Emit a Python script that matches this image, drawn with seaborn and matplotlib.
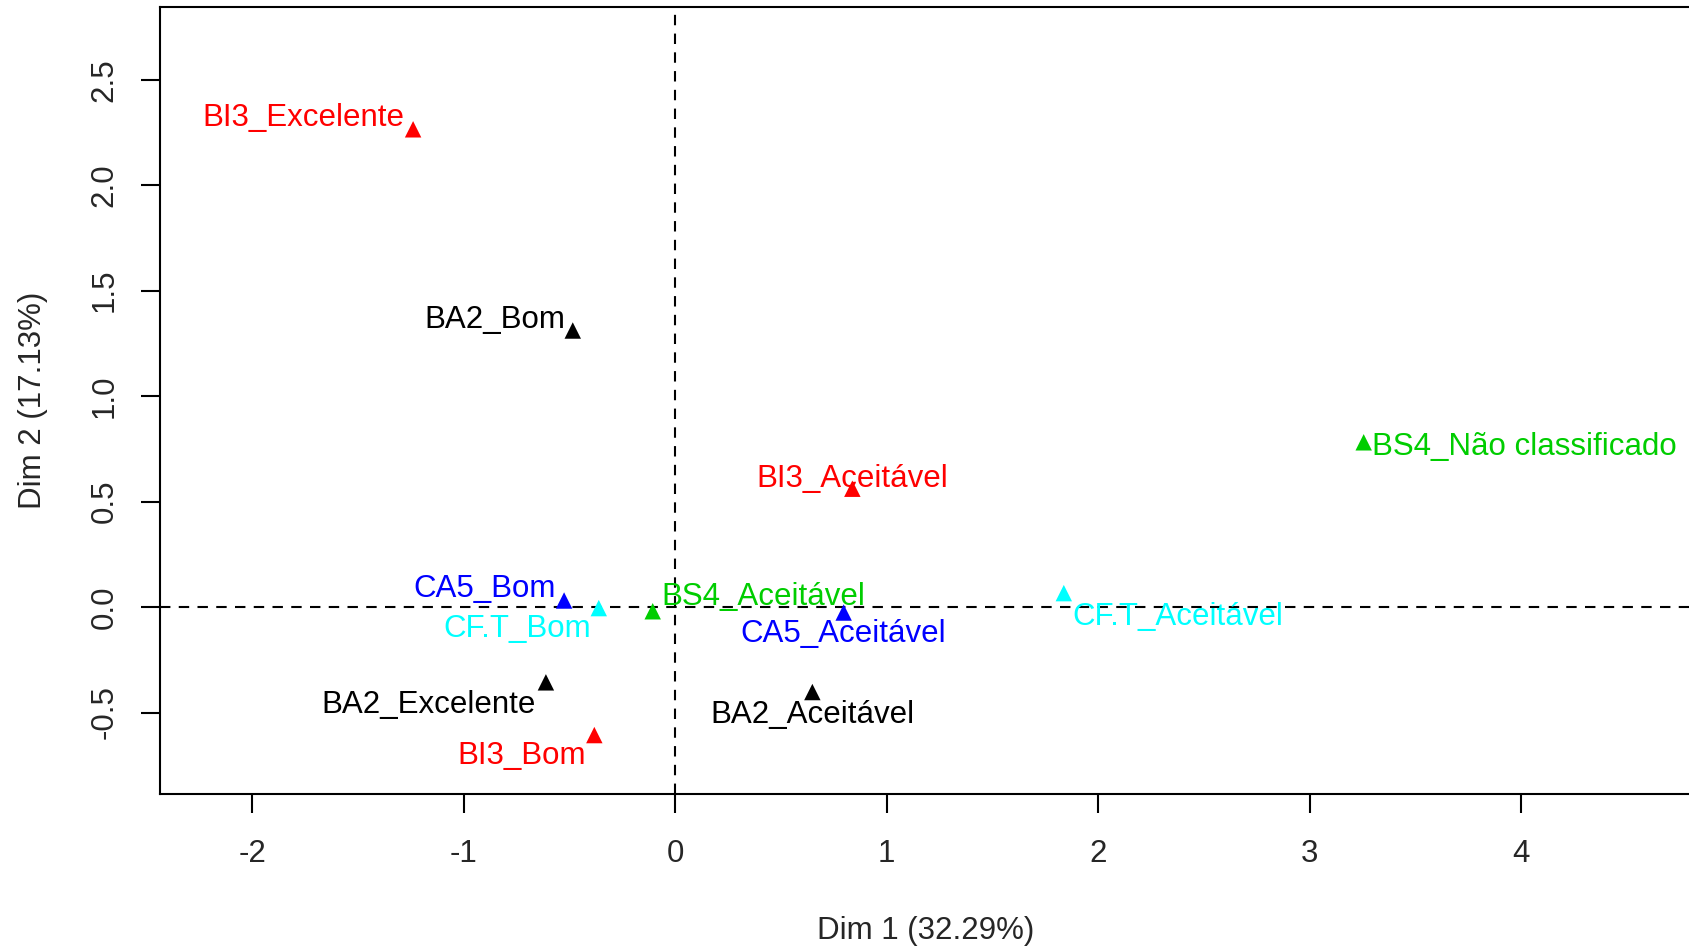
import pandas as pd
import seaborn as sns
import matplotlib
matplotlib.use('Agg')
import matplotlib.pyplot as plt

# Category coordinates on the first two dimensions
labels = ['BI3_Excelente', 'BA2_Bom', 'BI3_Aceitável', 'BS4_Não classificado',
          'CA5_Bom', 'CF.T_Bom', 'BS4_Aceitável', 'CA5_Aceitável',
          'CF.T_Aceitável', 'BA2_Excelente', 'BA2_Aceitável', 'BI3_Bom']
dim1 = [-1.24, -0.485, 0.837, 3.255, -0.526, -0.362, -0.107, 0.796,
        1.837, -0.612, 0.648, -0.383]
dim2 = [2.265, 1.311, 0.561, 0.781, 0.031, -0.005, -0.020, -0.026,
        0.066, -0.357, -0.403, -0.607]
groups = ['BI3', 'BA2', 'BI3', 'BS4', 'CA5', 'CF.T', 'BS4', 'CA5',
          'CF.T', 'BA2', 'BA2', 'BI3']

palette = {'BA2': 'black', 'BI3': '#FF0000', 'BS4': '#00CD00',
           'CA5': '#0000FF', 'CF.T': '#00FFFF'}

# label placement: (dx, dy) in points from the marker, horizontal alignment
label_pos = {
    'BI3_Excelente': (-6, 8.3, 'right'),
    'BA2_Bom': (-5.5, 7.8, 'right'),
    'BI3_Aceitável': (0, 7.2, 'center'),
    'BS4_Não classificado': (6, -3.6, 'left'),
    'CA5_Bom': (-6, 8.6, 'right'),
    'CF.T_Bom': (-5.5, -15.4, 'right'),
    'BS4_Aceitável': (6, 10.2, 'left'),
    'CA5_Aceitável': (0, -15.4, 'center'),
    'CF.T_Aceitável': (6, -17, 'left'),
    'BA2_Excelente': (-7, -16.2, 'right'),
    'BA2_Aceitável': (0, -16.2, 'center'),
    'BI3_Bom': (-6, -15.4, 'right'),
}

df = pd.DataFrame({'label': labels, 'Dim1': dim1, 'Dim2': dim2, 'group': groups})

sns.set_style('white')
plt.rcParams['font.family'] = ['Liberation Sans', 'DejaVu Sans']
fs = 22.5

fig = plt.figure(figsize=(16.9, 9.47), dpi=100)
ax = fig.add_axes([0.0944, 0.1612, 0.9066, 0.8319])

ax.axhline(0, color='black', lw=1.5, ls=(0, (5, 4)), zorder=1)
ax.axvline(0, color='black', lw=1.5, ls=(0, (5, 4)), zorder=1)

sns.scatterplot(data=df, x='Dim1', y='Dim2', hue='group', palette=palette,
                marker='^', s=140, linewidth=0, legend=False, ax=ax, zorder=3)

for _, r in df.iterrows():
    dx, dy, ha = label_pos[r['label']]
    ax.annotate(r['label'], (r['Dim1'], r['Dim2']), xytext=(dx, dy),
                textcoords='offset points', ha=ha, va='center',
                color=palette[r['group']], fontsize=fs, zorder=4)

ax.set_xlim(-2.439, 4.806)
ax.set_ylim(-0.888, 2.847)
ax.set_xticks([-2, -1, 0, 1, 2, 3, 4])
ax.set_xticklabels(['-2', '-1', '0', '1', '2', '3', '4'])
ax.set_yticks([-0.5, 0.0, 0.5, 1.0, 1.5, 2.0, 2.5])
ax.set_yticklabels(['-0.5', '0.0', '0.5', '1.0', '1.5', '2.0', '2.5'],
                   rotation=90, va='center')

ax.tick_params(axis='both', direction='out', length=13.7, width=1.5,
               labelsize=fs, color='black', bottom=True, left=True)
ax.tick_params(axis='x', pad=18.5)
ax.tick_params(axis='y', pad=15)

for sp in ax.spines.values():
    sp.set_color('black')
    sp.set_linewidth(1.5)

ax.set_xlabel('Dim 1 (32.29%)', fontsize=fs, labelpad=34)
ax.set_ylabel('Dim 2 (17.13%)', fontsize=fs, labelpad=30)

fig.savefig('out.png', dpi=100, facecolor='white')
